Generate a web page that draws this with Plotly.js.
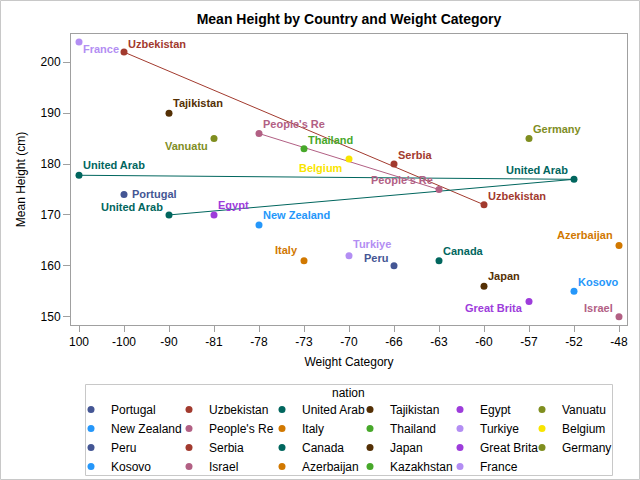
<!DOCTYPE html>
<html>
<head>
<meta charset="utf-8">
<script src="https://cdn.plot.ly/plotly-3.0.1.min.js"></script>
<style>html,body{margin:0;padding:0;background:#fff;}#chart{width:640px;height:480px;}</style>
</head>
<body>
<div id="chart"></div>
<script>
// ---- data ----
const categories = ["100","-100","-90","-81","-78","-73","-70","-66","-63","-60","-57","-52","-48"];
const nations = ["Portugal","Uzbekistan","United Arab","Tajikistan","Egypt","Vanuatu",
  "New Zealand","People's Re","Italy","Thailand","Turkiye","Belgium",
  "Peru","Serbia","Canada","Japan","Great Brita","Germany",
  "Kosovo","Israel","Azerbaijan","Kazakhstan","France"];
const pointNation = ["France","Uzbekistan","Tajikistan","Vanuatu","People's Re","Thailand","Belgium",
  "United Arab","Serbia","Germany","United Arab","People's Re","Uzbekistan","Portugal","United Arab",
  "Egypt","New Zealand","Italy","Turkiye","Peru","Canada","Azerbaijan","Japan","Kosovo","Great Brita","Israel"];
const pointWeight = ["100","-100","-90","-81","-78","-73","-70",
  "100","-66","-57","-52","-63","-60","-100","-90",
  "-81","-78","-73","-70","-66","-63","-48","-60","-52","-57","-48"];
const pointHeight = [204,202,190,185,186,183,181,
  177.8,180,185,177,175,172,174,170,
  170,168,161,162,160,161,164,156,155,153,150];

// ---- styles ----
const labelSide = ["right","right","right","left","right","right","left",
  "right","right","right","left","left","right","right","left",
  "right","right","left","right","left","right","left","right","right","left","left"];
// vertical offset of label centre from marker, px (positive = down)
const labelDy = [7,-8,-10,7,-10,-9,9,
  -10,-9,-10,-9,-10,-9,-1,-8,
  -10,-10,-11,-12,-8,-10,-10,-10,-9,7,-9];
const palette = ["#445694","#A23A2E","#01665E","#543005","#9D3CDB","#7F8E1F",
  "#2597FA","#B26084","#D17800","#47A82A","#B38EF3","#F9E500"];
const FONT = "'Liberation Sans', Arial, sans-serif";

// plot area in px
const L = 71, R = 627, T = 34, B = 325, W = 640, H = 480;
const pw = R - L, ph = B - T;
const px = v => (v - L) / pw;
const py = v => (B - v) / ph;

const colorOf = n => palette[nations.indexOf(n) % 12];

const traces = [];
// connecting lines (no legend)
nations.forEach((n, gi) => {
  const idx = pointNation.map((p, i) => p === n ? i : -1).filter(i => i >= 0);
  if (idx.length > 1) {
    traces.push({
      type: "scatter", mode: "lines", showlegend: false, hoverinfo: "skip",
      x: idx.map(i => pointWeight[i]), y: idx.map(i => pointHeight[i]),
      line: {color: palette[gi % 12], width: 1}
    });
  }
});
// markers
const legendMarkerX = [94, 192, 285, 373, 463, 545];
nations.forEach((n, gi) => {
  const idx = pointNation.map((p, i) => p === n ? i : -1).filter(i => i >= 0);
  const col = gi % 6;
  const c = palette[gi % 12];
  traces.push({
    type: "scatter", mode: "markers", name: n,
    legend: col === 0 ? "legend" : "legend" + (col + 1),
    x: idx.length ? idx.map(i => pointWeight[i]) : [null],
    y: idx.length ? idx.map(i => pointHeight[i]) : [null],
    marker: {color: c, size: 7},
    cliponaxis: false
  });
});

// point labels
const labelAnns = pointNation.map((n, i) => ({
  text: n, xref: "x", yref: "y",
  x: categories.indexOf(pointWeight[i]), y: pointHeight[i],
  xanchor: labelSide[i] === "right" ? "left" : "right",
  xshift: labelSide[i] === "right" ? (labelDy[i] === -1 ? 7 : 3) : -5,
  yanchor: "middle", yshift: -labelDy[i],
  showarrow: false, borderpad: 0,
  font: {family: FONT, size: 11, color: colorOf(n), weight: "bold"}
}));

const layout = {
  width: W, height: H,
  margin: {l: L, r: W - R, t: T, b: H - B, autoexpand: false},
  paper_bgcolor: "#fff", plot_bgcolor: "#fff",
  font: {family: FONT, size: 12, color: "#000"},
  title: {text: "<b>Mean Height by Country and Weight Category</b>", font: {family: FONT, size: 14, color: "#000"},
    x: 0.5, xref: "paper", xanchor: "center", y: 1 - 19 / H, yref: "container", yanchor: "middle"},
  xaxis: {
    type: "category", categoryorder: "array", categoryarray: categories,
    range: [-(79 - L) / 45, 12 + (R - 619) / 45],
    showgrid: false, zeroline: false, showline: true, mirror: true, linecolor: "#a0a0a0", linewidth: 1,
    ticks: "outside", ticklen: 6, tickcolor: "#a0a0a0",
    tickfont: {family: FONT, size: 12, color: "#000"},
    title: {text: "Weight Category", font: {family: FONT, size: 12, color: "#000"}, standoff: 9}
  },
  yaxis: {
    range: [148.37, 205.56], dtick: 10, tick0: 150,
    showgrid: false, zeroline: false, showline: true, mirror: true, linecolor: "#a0a0a0", linewidth: 1,
    ticks: "outside", ticklen: 7, tickcolor: "#a0a0a0",
    tickfont: {family: FONT, size: 12, color: "#000"},
    title: {text: "Mean Height (cm)", font: {family: FONT, size: 12, color: "#000"}, standoff: 12}
  },
  shapes: [
    {type: "rect", xref: "paper", yref: "paper", x0: px(0.5), x1: px(639.5), y0: py(479.5), y1: py(0.5),
      line: {color: "#c8c8c8", width: 1}, layer: "below"},
    {type: "rect", xref: "paper", yref: "paper", x0: px(85.5), x1: px(612.5), y0: py(475.5), y1: py(384.5),
      line: {color: "#c8c8c8", width: 1}, layer: "below"}
  ],
  annotations: [
    {text: "nation", xref: "paper", yref: "paper", x: px(348.5), y: py(393), xanchor: "center", yanchor: "middle",
      showarrow: false, font: {family: FONT, size: 12, color: "#000"}}
  ].concat(labelAnns),
  showlegend: true
};
legendMarkerX.forEach((mx, k) => {
  const key = k === 0 ? "legend" : "legend" + (k + 1);
  layout[key] = {
    x: px(mx - 23), y: py(395), xanchor: "left", yanchor: "top", orientation: "v",
    bgcolor: "rgba(0,0,0,0)", borderwidth: 0, tracegroupgap: 0,
    font: {family: FONT, size: 12, color: "#000"}, itemwidth: 30
  };
});

Plotly.newPlot("chart", traces, layout, {displayModeBar: false, staticPlot: true});
</script>
</body>
</html>
